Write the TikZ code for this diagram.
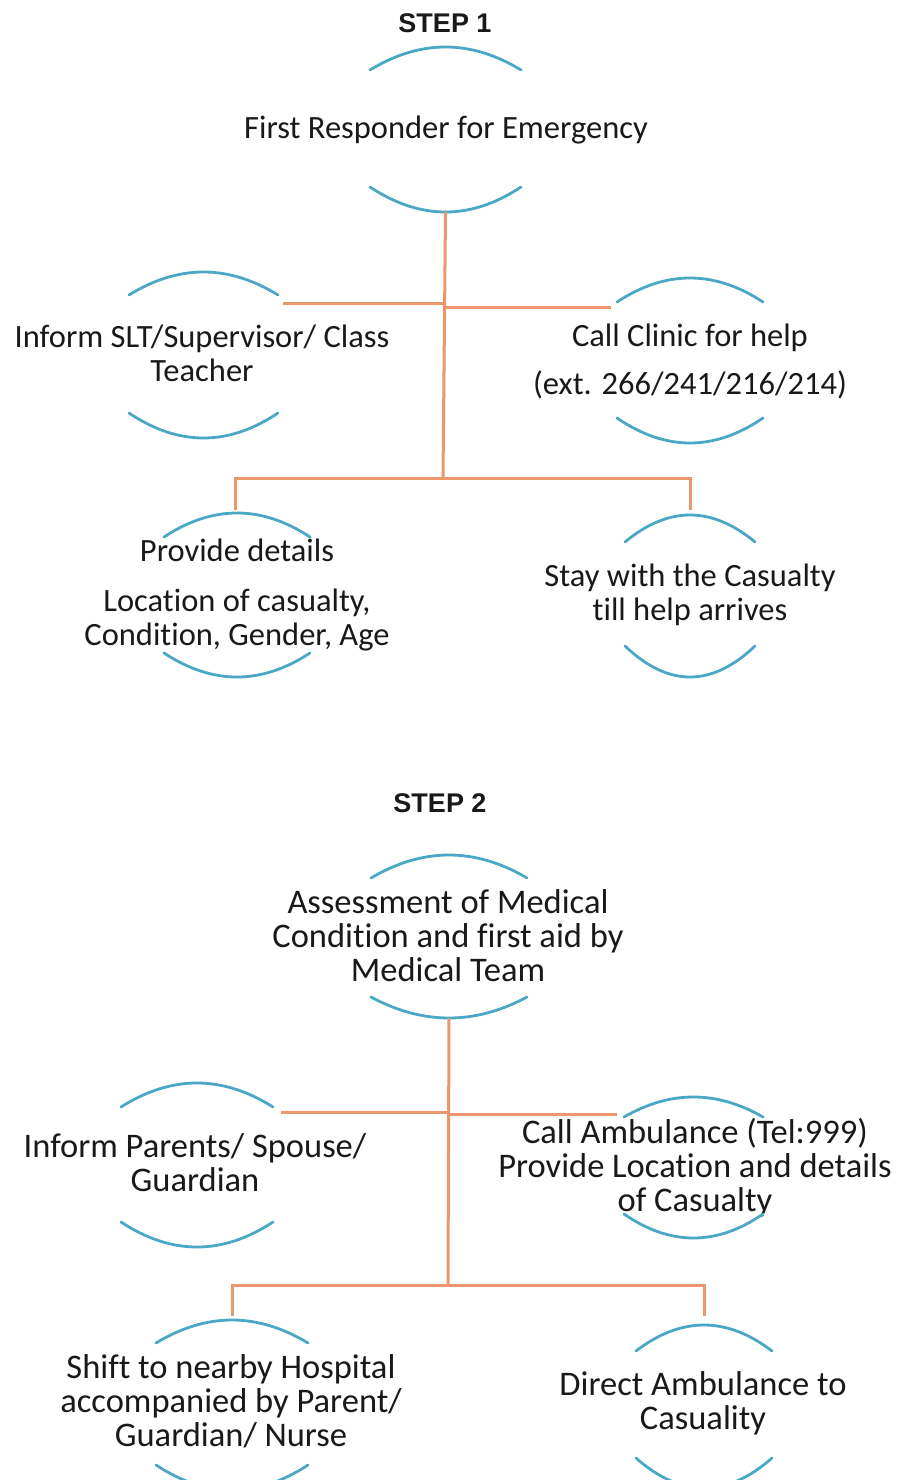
\documentclass[tikz,border=0pt]{standalone}
\usepackage{fontspec}
\newfontfamily\bodyfont[Ligatures={NoCommon}]{Carlito}
\newfontfamily\headfont{Liberation Sans}
\definecolor{arcblue}{RGB}{75,168,196}
\definecolor{connorange}{RGB}{236,150,108}
\definecolor{inkgray}{RGB}{25,25,25}
% top arc: x0, x1, end y, peak y ; bottom arc: end y, low y
\newcommand\ArcPair[7]{%
  \coordinate (#1-t) at ({(#2+#3)/2},#5);
  \coordinate (#1-b) at ({(#2+#3)/2},#7);
  \draw[arcline] (#2,#4) .. controls ({#2+(#3-#2)/3},{#4+4/3*(#5-#4)}) and ({#3-(#3-#2)/3},{#4+4/3*(#5-#4)}) .. (#3,#4);
  \draw[arcline] (#2,#6) .. controls ({#2+(#3-#2)/3},{#6+4/3*(#7-#6)}) and ({#3-(#3-#2)/3},{#6+4/3*(#7-#6)}) .. (#3,#6);
}
\tikzset{
  arcline/.style={draw=arcblue, line width=2.8pt, line cap=round},
  conn/.style={draw=connorange, line width=3pt},
  boxA/.style={align=center, inner sep=0pt, text=inkgray,
    font=\bodyfont\fontsize{32.5}{34}\selectfont,
    execute at begin node=\strut, execute at end node=\strut},
  boxB/.style={boxA, font=\bodyfont\fontsize{34.5}{34}\selectfont},
  steptitle/.style={inner sep=0pt, text=inkgray,
    font=\headfont\bfseries\fontsize{27}{34}\selectfont,
    execute at begin node=\strut, execute at end node=\strut},
}
\begin{document}
\begin{tikzpicture}[x=1pt,y=-1pt]
\fill[white] (0,0) rectangle (900,1480);
\useasboundingbox (0,0) rectangle (900,1480);
\clip (0,0) rectangle (900,1480);

% ---------------- STEP 1 ----------------
\node[steptitle] (title1) at (445,26.2) {STEP 1};

\node[boxA] (first) at (446,131.2) {First Responder for Emergency};
\ArcPair{first}{370}{521}{70}{47}{187}{212}

\node[boxA] (inform) at (202,358.2) {Inform SLT/Supervisor/ Class\\Teacher};
\ArcPair{inform}{129}{278}{295}{272}{413}{438}

\node[boxA] (clinic) at (690,364.2) {Call Clinic for help\\[14pt](ext. 266/241/216/214)};
\ArcPair{clinic}{617}{763}{302}{278}{418}{443}

\node[boxA] (provide) at (237,597.2) {Provide details\\[16pt]Location of casualty,\\Condition, Gender, Age};
\ArcPair{provide}{164}{310}{537}{513}{653}{677}

\node[boxA] (stay) at (690,597.2) {Stay with the Casualty\\till help arrives};
\ArcPair{stay}{625}{755}{542}{515}{646}{677}

\coordinate (j1) at (443,478);
\coordinate (j1l) at (443,303);
\coordinate (j1r) at (443,307);
\coordinate (inform-c) at (283,303);
\coordinate (clinic-c) at (611,307);
\coordinate (provide-c) at (235,510);
\coordinate (stay-c) at (690,510);

\draw[conn] (first-b) -- (j1);
\draw[conn] (j1l) -- (inform-c);
\draw[conn] (j1r) -- (clinic-c);
\draw[conn] (provide-c) |- (j1) -| (stay-c);

% ---------------- STEP 2 ----------------
\node[steptitle] (title2) at (440,805.2) {STEP 2};

\node[boxB] (assess) at (448,940.2) {Assessment of Medical\\Condition and first aid by\\Medical Team};
\ArcPair{assess}{371}{527}{878}{855}{997}{1018}

\node[boxB] (parents) at (195,1167.2) {Inform Parents/ Spouse/\\Guardian};
\ArcPair{parents}{121}{273}{1107}{1083}{1222}{1247}

\node[boxB] (ambulance) at (695,1170.2) {Call Ambulance (Tel:999)\\Provide Location and details\\of Casualty};
\ArcPair{ambulance}{624}{763}{1117}{1097}{1214}{1238}

\node[boxB] (shift) at (231,1405.2) {Shift to nearby Hospital\\accompanied by Parent/\\Guardian/ Nurse};
\ArcPair{shift}{156}{308}{1343}{1320}{1465}{1490}

\node[boxB] (direct) at (703,1405.7) {Direct Ambulance to\\Casuality};
\ArcPair{direct}{636}{772}{1351}{1325}{1458}{1488}

\coordinate (j2) at (448,1285);
\coordinate (j2l) at (448,1112);
\coordinate (j2r) at (448,1114);
\coordinate (parents-c) at (281,1112);
\coordinate (ambulance-c) at (617,1114);
\coordinate (shift-c) at (232,1316);
\coordinate (direct-c) at (704,1316);

\draw[conn] (assess-b) -- (j2);
\draw[conn] (j2l) -- (parents-c);
\draw[conn] (j2r) -- (ambulance-c);
\draw[conn] (shift-c) |- (j2) -| (direct-c);
\end{tikzpicture}
\end{document}
